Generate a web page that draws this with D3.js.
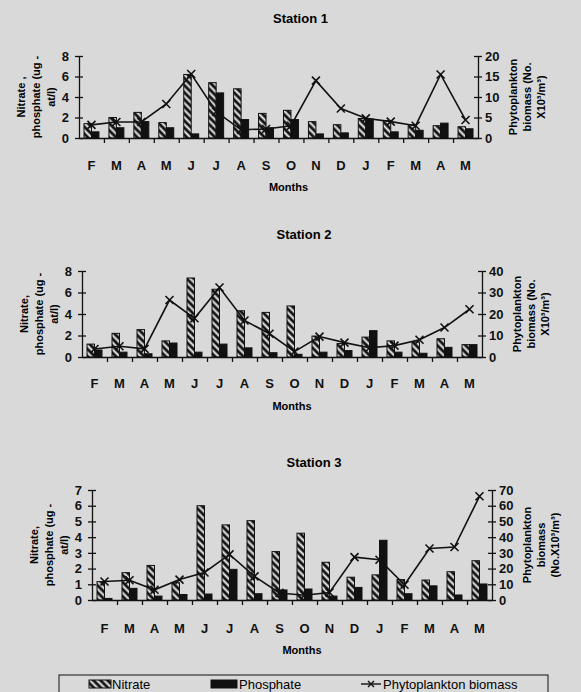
<!DOCTYPE html>
<html>
<head>
<meta charset="utf-8">
<script src="https://cdn.jsdelivr.net/npm/d3@7"></script>
<style>
  html, body { margin: 0; padding: 0; background: #d9d9d9; }
  svg { display: block; font-family: "Liberation Sans", Arial, sans-serif; font-weight: bold; }
</style>
</head>
<body>
<svg id="chart" width="581" height="692"></svg>
<script>
// months Feb .. May of next year
var months = ["F", "M", "A", "M", "J", "J", "A", "S", "O", "N", "D", "J", "F", "M", "A", "M"];

// Station 1
var nitrate1   = [1.4, 2.0, 2.5, 1.5, 6.2, 5.4, 4.8, 2.4, 2.7, 1.6, 1.3, 1.9, 1.7, 1.3, 1.2, 1.1];
var phosphate1 = [0.6, 1.0, 1.6, 1.0, 0.4, 4.4, 1.8, 1.0, 1.8, 0.4, 0.5, 1.85, 0.6, 0.75, 1.45, 0.9];
var biomass1   = [3.2, 3.9, 3.9, 8.3, 15.6, 6.4, 2.0, 2.2, 3.0, 14.0, 7.2, 4.8, 4.0, 3.0, 15.5, 4.4];
var leftTicks1  = [0, 2, 4, 6, 8];
var rightTicks1 = [0, 5, 10, 15, 20];

// Station 2
var nitrate2   = [1.2, 2.2, 2.55, 1.5, 7.35, 6.3, 4.3, 4.15, 4.75, 1.95, 1.25, 1.85, 1.5, 1.4, 1.7, 1.15];
var phosphate2 = [0.65, 0.45, 0.3, 1.3, 0.45, 1.2, 0.85, 0.4, 0.25, 0.45, 0.6, 2.45, 0.45, 0.35, 0.9, 1.15];
var biomass2   = [3.7, 5.0, 3.8, 26.5, 18.0, 32.3, 17.0, 10.8, 2.5, 9.5, 6.7, 4.3, 5.3, 8.0, 13.7, 22.2];
var leftTicks2  = [0, 2, 4, 6, 8];
var rightTicks2 = [0, 10, 20, 30, 40];

// Station 3
var nitrate3   = [1.17, 1.74, 2.2, 1.1, 6.0, 4.78, 5.05, 3.08, 4.25, 2.4, 1.45, 1.6, 1.3, 1.27, 1.8, 2.5];
var phosphate3 = [0.1, 0.74, 0.25, 0.35, 0.38, 1.95, 0.4, 0.64, 0.7, 0.25, 0.8, 3.8, 0.4, 0.9, 0.32, 1.02];
var biomass3   = [11.8, 12.6, 6.5, 13.0, 17.5, 29.0, 15.0, 4.5, 3.0, 4.8, 27.3, 25.6, 9.7, 32.8, 33.7, 66.0];
var leftTicks3  = [0, 1, 2, 3, 4, 5, 6, 7];
var rightTicks3 = [0, 10, 20, 30, 40, 50, 60, 70];

var legendItems = ["Nitrate", "Phosphate", "Phytoplankton biomass"];

var svg = d3.select("#chart");

/* hatch for nitrate bars */
var defs = svg.append("defs");
var pat = defs.append("pattern")
  .attr("id", "hatch")
  .attr("patternUnits", "userSpaceOnUse")
  .attr("width", 5)
  .attr("height", 5)
  .attr("patternTransform", "rotate(-45)");
pat.append("rect").attr("width", 5).attr("height", 5).attr("fill", "#111");
pat.append("line")
  .attr("x1", 2.5).attr("x2", 2.5)
  .attr("y1", 0).attr("y2", 5)
  .attr("stroke", "#f2f2f2")
  .attr("stroke-width", 2);

var panels = [
  {title: "Station 1", nitrate: nitrate1, phosphate: phosphate1, biomass: biomass1,
   leftTicks: leftTicks1, rightTicks: rightTicks1,
   left: 79, right: 478, top: 56, bottom: 138, titleY: 23, monthY: 171, monthsY: 191,
   leftTitle: ["Nitrate ,", "phosphate (ug -", "at/l)"],
   rightTitle: ["Phytoplankton", "biomass (No.", "X10³/m³)"]},
  {title: "Station 2", nitrate: nitrate2, phosphate: phosphate2, biomass: biomass2,
   leftTicks: leftTicks2, rightTicks: rightTicks2,
   left: 82, right: 482, top: 271, bottom: 357, titleY: 239, monthY: 389, monthsY: 410,
   leftTitle: ["Nitrate,", "phosphate (ug -", "at/l)"],
   rightTitle: ["Phytoplankton", "biomass (No.", "X10³/m³)"]},
  {title: "Station 3", nitrate: nitrate3, phosphate: phosphate3, biomass: biomass3,
   leftTicks: leftTicks3, rightTicks: rightTicks3,
   left: 92, right: 492, top: 490, bottom: 600, titleY: 467, monthY: 634, monthsY: 654,
   leftTitle: ["Nitrate,", "phosphate (ug -", "at/l)"],
   rightTitle: ["Phytoplankton", "biomass", "(No.X10³/m³)"]}
];

panels.forEach(function(p) {

  var g = svg.append("g");
  var idx = d3.range(months.length);

  var x = d3.scaleBand().domain(idx).range([p.left, p.right]).paddingInner(0.4).paddingOuter(0.2);
  var xs = d3.scaleBand().domain(["n", "p"]).range([0, x.bandwidth()]);
  var edge = d3.scaleLinear().domain([0, months.length]).range([p.left, p.right]);

  var yl = d3.scaleLinear().domain([0, d3.max(p.leftTicks)]).range([p.bottom, p.top]);
  var yr = d3.scaleLinear().domain([0, d3.max(p.rightTicks)]).range([p.bottom, p.top]);

  /* Title */
  g.append("text")
    .attr("x", (p.left + p.right) / 2 + 22)
    .attr("y", p.titleY)
    .attr("text-anchor", "middle")
    .attr("font-size", 13)
    .text(p.title);

  /* Bars */
  var bars = g.append("g");
  bars.selectAll("rect.n").data(idx).enter().append("rect")
    .attr("class", "n")
    .attr("x", (i) => x(i) + xs("n"))
    .attr("y", (i) => yl(p.nitrate[i]))
    .attr("width", xs.bandwidth())
    .attr("height", (i) => p.bottom - yl(p.nitrate[i]))
    .attr("fill", "url(#hatch)")
    .attr("stroke", "#111")
    .attr("stroke-width", 1);
  bars.selectAll("rect.p").data(idx).enter().append("rect")
    .attr("class", "p")
    .attr("x", (i) => x(i) + xs("p"))
    .attr("y", (i) => yl(p.phosphate[i]))
    .attr("width", xs.bandwidth())
    .attr("height", (i) => p.bottom - yl(p.phosphate[i]))
    .attr("fill", "#111")
    .attr("stroke", "#111")
    .attr("stroke-width", 1);

  /* Axes */
  var la = g.append("g")
    .attr("transform", `translate(${p.left},0)`)
    .call(d3.axisLeft(yl).tickValues(p.leftTicks).tickFormat(d3.format("d"))
      .tickSize(4).tickSizeOuter(0).tickPadding(6));
  la.selectAll(".tick line").attr("x1", 4);

  var ra = g.append("g")
    .attr("transform", `translate(${p.right},0)`)
    .call(d3.axisRight(yr).tickValues(p.rightTicks).tickFormat(d3.format("d"))
      .tickSize(4).tickSizeOuter(0).tickPadding(3));
  ra.selectAll(".tick line").attr("x1", -4);

  g.append("g")
    .attr("transform", `translate(0,${p.bottom})`)
    .call(d3.axisBottom(edge).tickValues(d3.range(1, months.length)).tickSize(5).tickSizeOuter(0).tickFormat(""));

  var ma = g.append("g")
    .attr("transform", `translate(0,${p.monthY - 10})`)
    .call(d3.axisBottom(x).tickSize(0).tickPadding(0).tickFormat((i) => months[i]));
  ma.select(".domain").remove();

  [la, ra, ma].forEach(function(a) {
    a.selectAll("text").attr("font-size", 13).attr("font-family", "Liberation Sans, Arial, sans-serif").attr("font-weight", "bold").attr("fill", "#111");
  });
  g.selectAll(".domain, .tick line").attr("stroke", "#111").attr("stroke-width", 1.3);

  g.append("text")
    .attr("x", (p.left + p.right) / 2 + 10)
    .attr("y", p.monthsY)
    .attr("text-anchor", "middle")
    .attr("font-size", 11)
    .text("Months");

  /* Axis titles */
  var midY = (p.top + p.bottom) / 2;
  p.leftTitle.forEach(function(t, k) {
    var cx = p.left - 58 + k * 15;
    g.append("text")
      .attr("transform", `translate(${cx},${midY}) rotate(-90)`)
      .attr("text-anchor", "middle")
      .attr("dy", "0.35em")
      .attr("font-size", 11)
      .text(t);
  });
  p.rightTitle.forEach(function(t, k) {
    var cx = p.right + 35 + k * 14;
    g.append("text")
      .attr("transform", `translate(${cx},${midY}) rotate(-90)`)
      .attr("text-anchor", "middle")
      .attr("dy", "0.35em")
      .attr("font-size", 11)
      .text(t);
  });

  /* Biomass line */
  var cx = (i) => x(i) + x.bandwidth() / 2;
  g.append("path")
    .datum(idx)
    .attr("fill", "none")
    .attr("stroke", "#111")
    .attr("stroke-width", 1.6)
    .attr("d", d3.line().x(cx).y((i) => yr(p.biomass[i])));

  g.selectAll("path.mark").data(idx).enter().append("path")
    .attr("class", "mark")
    .attr("d", (i) => {
      var a = cx(i), b = yr(p.biomass[i]), s = 4;
      return `M${a - s},${b - s}L${a + s},${b + s}M${a - s},${b + s}L${a + s},${b - s}`;
    })
    .attr("stroke", "#111")
    .attr("stroke-width", 1.6);
});

/* Legend */
var lg = svg.append("g");
lg.append("rect")
  .attr("x", 59).attr("y", 675).attr("width", 489).attr("height", 30)
  .attr("fill", "none").attr("stroke", "#111").attr("stroke-width", 1);

var legendX = [89, 211, 361];

legendItems.forEach(function(t, k) {
  var lx = legendX[k];
  if (k === 0) {
    lg.append("rect").attr("x", lx).attr("y", 680).attr("width", 22).attr("height", 8)
      .attr("fill", "url(#hatch)").attr("stroke", "#111");
  } else if (k === 1) {
    lg.append("rect").attr("x", lx).attr("y", 680).attr("width", 26).attr("height", 8)
      .attr("fill", "#111").attr("stroke", "#111");
  } else {
    lg.append("line").attr("x1", lx).attr("x2", lx + 20).attr("y1", 684).attr("y2", 684)
      .attr("stroke", "#111").attr("stroke-width", 1.4);
    lg.append("path")
      .attr("d", `M${lx + 7},${681}L${lx + 13},${687}M${lx + 7},${687}L${lx + 13},${681}`)
      .attr("stroke", "#111").attr("stroke-width", 1.4);
  }
  lg.append("text")
    .attr("x", lx + (k === 1 ? 28 : k === 0 ? 23 : 22))
    .attr("y", 689)
    .attr("font-size", 13)
    .attr("font-weight", "normal")
    .text(t);
});
</script>
</body>
</html>
